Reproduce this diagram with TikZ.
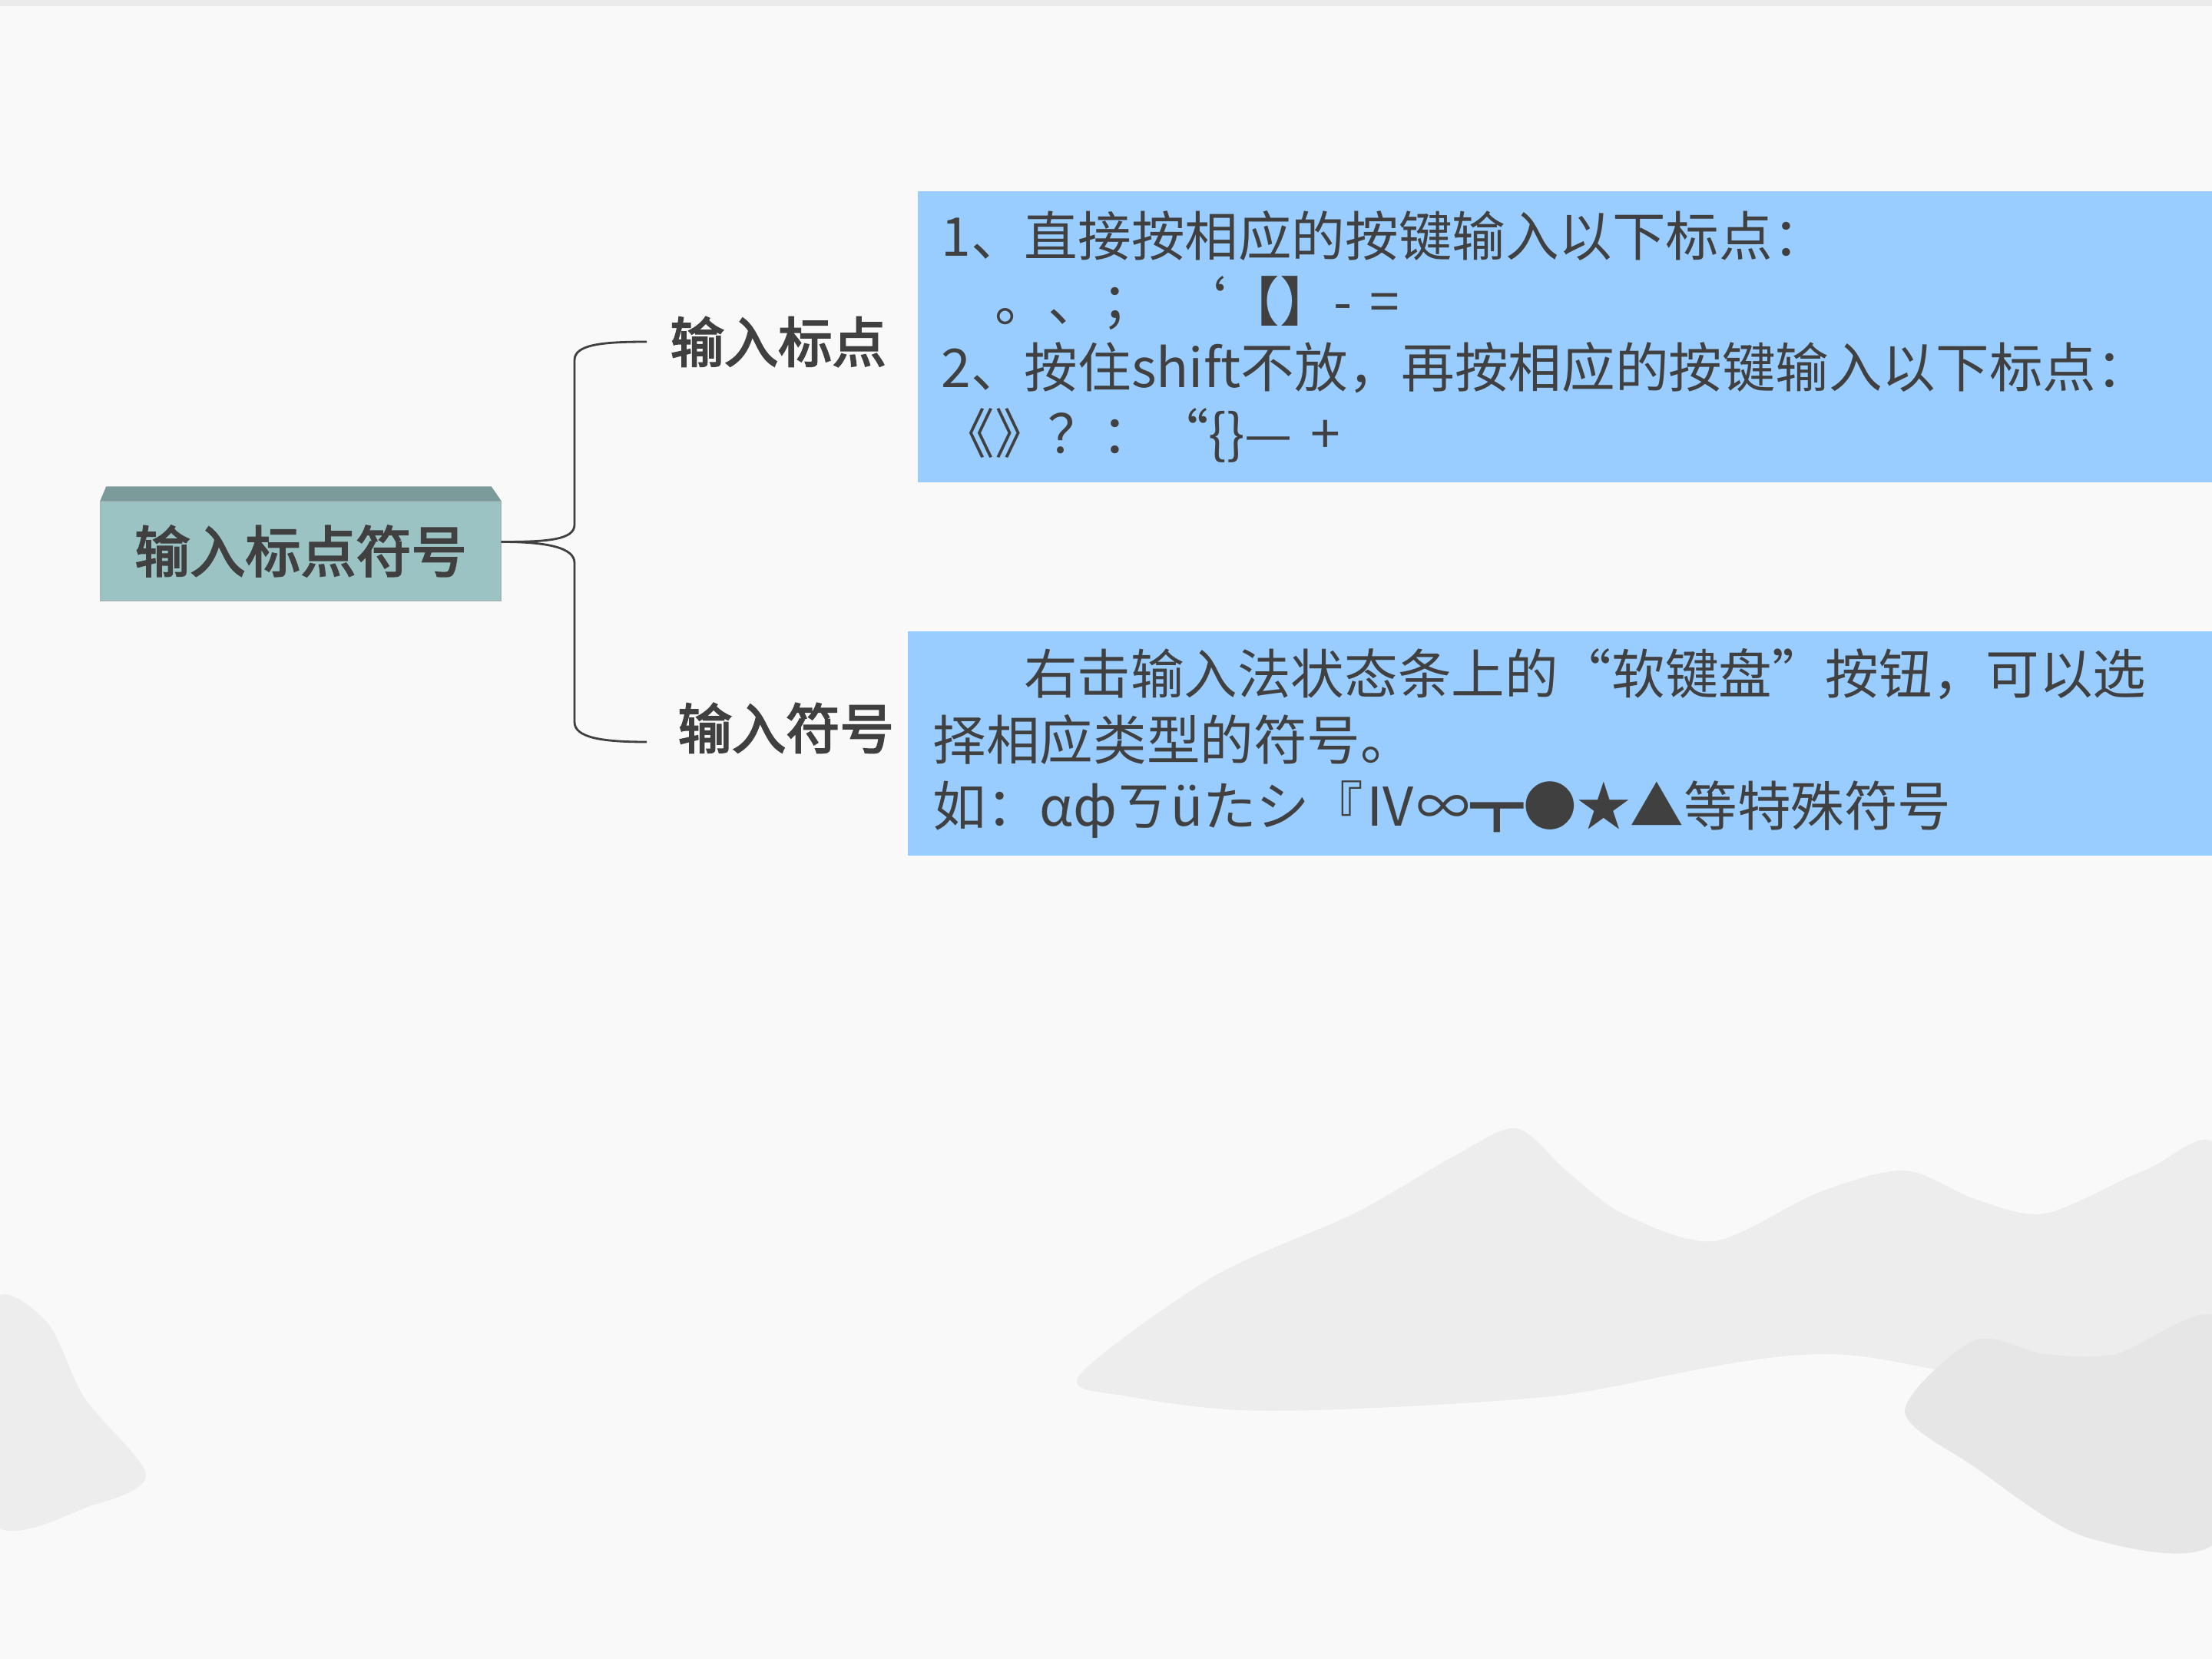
\documentclass[tikz,border=0pt]{standalone}
\usepackage{fontspec}
\setmainfont{Noto Sans CJK SC}
\newfontfamily\labelfont[FakeBold=3]{Noto Sans CJK SC}
\usetikzlibrary{positioning}
\definecolor{paper}{HTML}{F9F9F9}
\definecolor{band}{HTML}{EBEBEB}
\definecolor{ink}{HTML}{404040}
\definecolor{hill}{HTML}{EDEDED}
\definecolor{hilldark}{HTML}{E6E6E6}
\definecolor{rootfront}{HTML}{9CC3C3}
\definecolor{roottop}{HTML}{7B9B9A}
\definecolor{skyblue}{HTML}{99CCFF}

\begin{document}
\begin{tikzpicture}[x=1cm,y=1cm,
    root/.style={rectangle, fill=rootfront, draw=roottop!70, line width=0.4pt, minimum width=5.21cm, minimum height=1.29cm, text=ink, font=\labelfont\fontsize{20.5}{24}\selectfont},
    leaf/.style={anchor=west, text=ink, inner xsep=0.3cm, font=\labelfont\fontsize{20}{24}\selectfont},
    notebox/.style={rectangle, fill=skyblue, anchor=north west, align=left, text=ink, inner xsep=0.31cm, font=\fontsize{19.8}{24.4}\selectfont},
    branch/.style={draw=ink, line width=0.8pt}]
  % paper and ink-wash hills
  \useasboundingbox (0,0) rectangle (28.8,-21.6);
  \fill[paper] (0,0) rectangle (28.8,-21.6);
  \fill[band]  (0,0) rectangle (28.8,-0.08);
  \fill[hill] plot[smooth cycle] coordinates {(14.05,-17.91) (15.8,-16.62) (17.63,-15.8) (18.92,-15.06) (19.74,-14.69) (20.39,-15.24) (21.13,-15.8) (22.31,-16.16) (23.69,-15.52) (24.8,-15.24) (25.71,-15.61) (26.63,-15.8) (27.92,-15.24) (28.9,-15.0) (28.9,-18.37) (23.88,-17.63) (20.2,-18.18) (16.53,-18.37) (14.69,-18.18)};
  \fill[hilldark] plot[smooth cycle] coordinates {(24.8,-18.37) (25.71,-17.45) (26.63,-17.63) (27.55,-17.63) (28.9,-17.2) (28.9,-20.02) (27.18,-20.02) (25.71,-19.1)};
  \fill[hill] plot[smooth cycle] coordinates {(-0.1,-17.0) (0.6,-17.2) (1.1,-18.2) (1.9,-19.2) (1.2,-19.6) (-0.1,-19.8)};

  % mind map
  \node[root] (root) at (3.915,-7.175) {输入标点符号};
  \fill[roottop] (root.north west) -- ([xshift=0.08cm,yshift=0.19cm]root.north west)
        -- ([xshift=-0.13cm,yshift=0.19cm]root.north east) -- (root.north east) -- cycle;
  \node[leaf] (punct) at (8.42,-4.45) {输入标点};
  \node[leaf] (symb)  at (8.52,-9.48) {输入符号};

  \draw[branch] ([yshift=0.12cm]root.east) .. controls +(0.6,0) and +(0,-0.2) .. (7.48,-6.83)
        -- (7.48,-4.69) .. controls +(0,0.2) and +(-0.6,0) .. (punct.west);
  \draw[branch] ([yshift=0.12cm]root.east) .. controls +(0.6,0) and +(0,0.2) .. (7.48,-7.33)
        -- (7.48,-9.40) .. controls +(0,-0.2) and +(-0.6,0) .. ([xshift=-0.1cm,yshift=-0.18cm]symb.west);

  \node[notebox, text width=16.24cm, minimum height=3.79cm] (pbox) at (11.94,-2.48) {%
    1、直接按相应的按键输入以下标点：\\
    \hspace*{1em}。、； ‘【】- =\\
    2、按住shift不放，再按相应的按键输入以下标点：\\
    《》？：“\{\}— +};
  \node[notebox, text width=16.33cm, minimum height=2.92cm, inner xsep=0.33cm] (sbox) at (11.81,-8.21) {%
    \hspace*{1.7em}右击输入法状态条上的“软键盘”按钮，可以选\\
    择相应类型的符号。\\
    如：αфㄎüたシ『Ⅳ∞┳●★▲等特殊符号};
\end{tikzpicture}
\end{document}
